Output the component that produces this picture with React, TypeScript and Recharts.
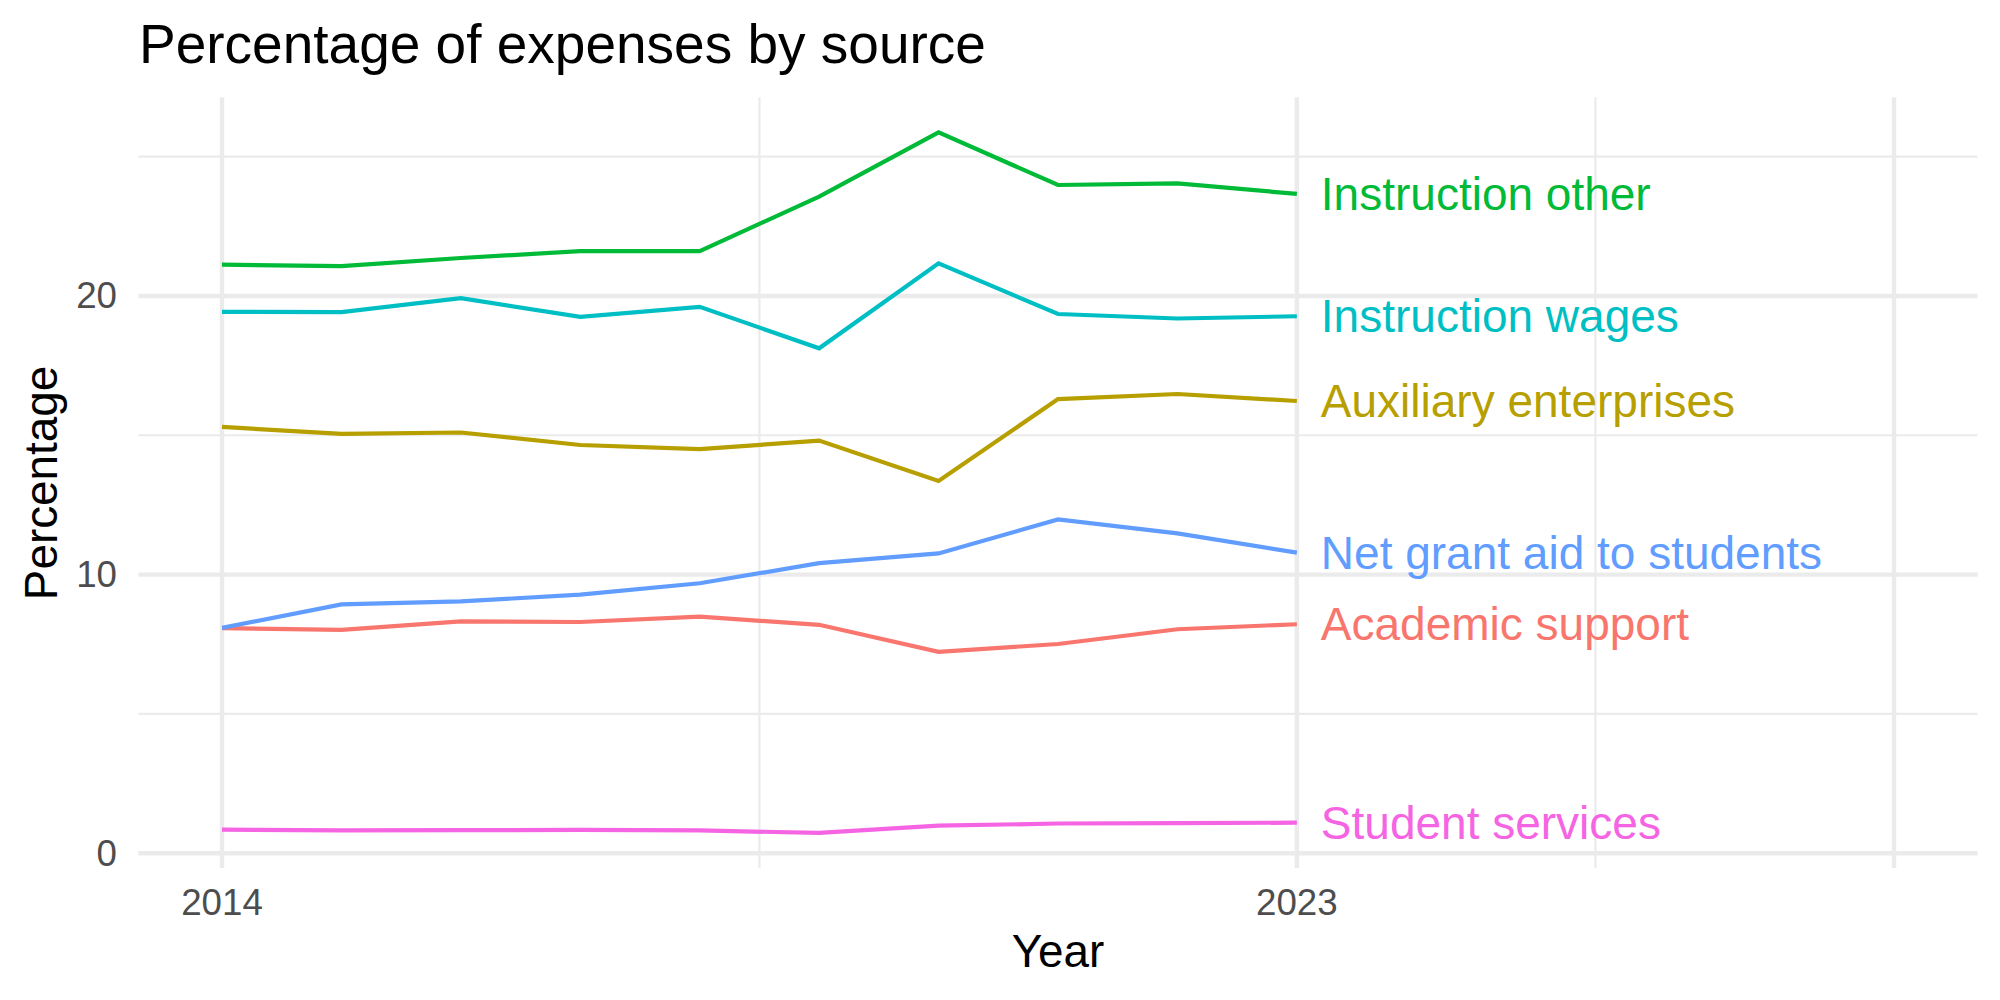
import React from "react"
import {
    LineChart,
    Line,
    XAxis,
    YAxis,
    CartesianGrid,
} from "recharts"

const years = [2014, 2015, 2016, 2017, 2018, 2019, 2020, 2021, 2022, 2023]

const academicSupport = [8.08, 8.02, 8.32, 8.3, 8.49, 8.2, 7.23, 7.51, 8.04, 8.22]
const auxiliaryEnterprises = [15.3, 15.05, 15.1, 14.65, 14.5, 14.81, 13.36, 16.3, 16.48, 16.23]
const instructionOther = [21.12, 21.07, 21.36, 21.61, 21.61, 23.56, 25.87, 23.98, 24.04, 23.66]
const instructionWages = [19.43, 19.42, 19.92, 19.25, 19.61, 18.12, 21.17, 19.35, 19.19, 19.27]
const netGrantAid = [8.09, 8.93, 9.04, 9.28, 9.69, 10.41, 10.76, 11.98, 11.48, 10.79]
const studentServices = [0.85, 0.82, 0.83, 0.84, 0.82, 0.73, 0.99, 1.07, 1.08, 1.1]

const xTicks = [2014, 2023, 2028]
const xLabelled = [2014, 2023]
const yTicks = [0, 10, 20]
const yMinor = [5, 15, 25]
const xMinor = [2018.5, 2025.5]

const series = [
    { key: "academic", name: "Academic support", color: "#F8766D", values: academicSupport },
    { key: "auxiliary", name: "Auxiliary enterprises", color: "#B79F00", values: auxiliaryEnterprises },
    { key: "instOther", name: "Instruction other", color: "#00BA38", values: instructionOther },
    { key: "instWages", name: "Instruction wages", color: "#00BFC4", values: instructionWages },
    { key: "netGrant", name: "Net grant aid to students", color: "#619CFF", values: netGrantAid },
    { key: "studentSvc", name: "Student services", color: "#F564E3", values: studentServices },
]

const rows = years.map((year, i) => {
    const row: Record<string, number> = { year }
    series.forEach((s) => {
        row[s.key] = s.values[i]
    })
    return row
})

const FONT = "'Liberation Sans', Arial, Helvetica, sans-serif"
const GRID = "#EBEBEB"

function XTick(props: any) {
    const { x, payload } = props
    if (!xLabelled.includes(payload.value)) return <g />
    return (
        <text x={x} y={915} textAnchor="middle" fontSize={36.7} fill="#4D4D4D" fontFamily={FONT}>
            {payload.value}
        </text>
    )
}

function YTick(props: any) {
    const { y, payload } = props
    return (
        <text x={117} y={y} textAnchor="end" dominantBaseline="central" fontSize={36.7} fill="#4D4D4D" fontFamily={FONT}>
            {payload.value}
        </text>
    )
}

// label drawn only at the final year, to the right of the line end
const endLabel = (name: string, color: string) => (props: any) => {
    if (props.index !== years.length - 1) return <g />
    return (
        <text
            x={props.x + 24}
            y={props.y}
            dominantBaseline="central"
            fontSize={46}
            fill={color}
            fontFamily={FONT}
        >
            {name}
        </text>
    )
}

export default function App() {
    return (
        <div
            style={{
                position: "absolute",
                left: 0,
                top: 0,
                width: 2000,
                height: 1000,
                background: "#ffffff",
                fontFamily: FONT,
            }}
        >
            <LineChart
                width={2000}
                height={1000}
                data={rows}
                margin={{ top: 97.3, right: 22.4, bottom: 0, left: 0 }}
            >
                <CartesianGrid
                    stroke={GRID}
                    strokeWidth={2.2}
                    horizontalValues={yMinor}
                    verticalValues={xMinor}
                />
                <CartesianGrid
                    stroke={GRID}
                    strokeWidth={4.4}
                    horizontalValues={yTicks}
                    verticalValues={xTicks}
                />

                <XAxis
                    dataKey="year"
                    type="number"
                    domain={[2013.3, 2028.7]}
                    allowDataOverflow
                    ticks={xTicks}
                    height={132}
                    axisLine={false}
                    tickLine={false}
                    tick={<XTick />}
                />

                <YAxis
                    type="number"
                    domain={[-0.527, 27.127]}
                    allowDataOverflow
                    ticks={yTicks}
                    width={138.4}
                    axisLine={false}
                    tickLine={false}
                    tick={<YTick />}
                />

                {series.map((s) => (
                    <Line
                        key={s.key}
                        type="linear"
                        dataKey={s.key}
                        stroke={s.color}
                        strokeWidth={4.2}
                        dot={false}
                        activeDot={false}
                        isAnimationActive={false}
                        label={endLabel(s.name, s.color)}
                    />
                ))}
            </LineChart>

            <svg
                width={2000}
                height={1000}
                style={{ position: "absolute", left: 0, top: 0, pointerEvents: "none" }}
            >
                <text x={139} y={63} fontSize={55} fill="#000000" fontFamily={FONT}>
                    Percentage of expenses by source
                </text>
                <text x={1058} y={967} textAnchor="middle" fontSize={45.8} fill="#000000" fontFamily={FONT}>
                    Year
                </text>
                <text
                    x={57}
                    y={483}
                    textAnchor="middle"
                    fontSize={45.8}
                    fill="#000000"
                    fontFamily={FONT}
                    transform="rotate(-90 57 483)"
                >
                    Percentage
                </text>
            </svg>
        </div>
    )
}
